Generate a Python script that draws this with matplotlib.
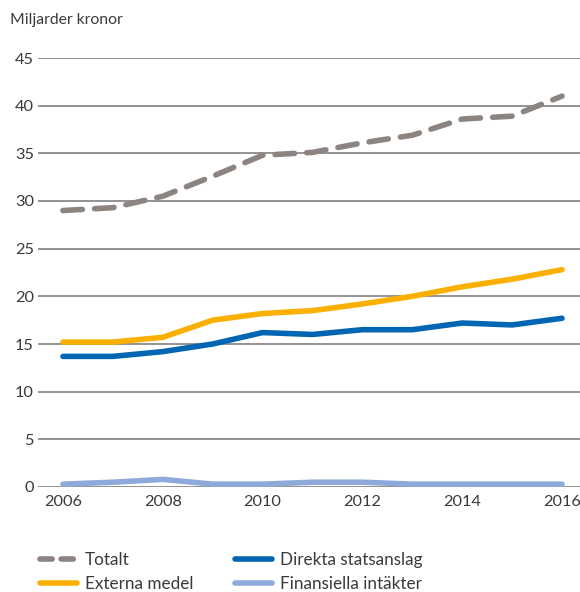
import matplotlib.pyplot as plt
from matplotlib.lines import Line2D

years = [2006, 2007, 2008, 2009, 2010, 2011, 2012, 2013, 2014, 2015, 2016]
totalt = [29.0, 29.3, 30.5, 32.6, 34.8, 35.1, 36.1, 36.9, 38.6, 38.9, 41.0]
externa = [15.2, 15.2, 15.7, 17.5, 18.2, 18.5, 19.2, 20.0, 21.0, 21.8, 22.8]
direkta = [13.7, 13.7, 14.2, 15.0, 16.2, 16.0, 16.5, 16.5, 17.2, 17.0, 17.7]
finansiella = [0.3, 0.5, 0.8, 0.3, 0.3, 0.5, 0.5, 0.3, 0.3, 0.3, 0.3]
yticks = [0, 5, 10, 15, 20, 25, 30, 35, 40, 45]
xticks = [2006, 2008, 2010, 2012, 2014, 2016]

c_tot = '#8c8480'
c_ext = '#fbb000'
c_dir = '#0066b3'
c_fin = '#8eaadb'
txt = '#3a3a3a'

plt.rcParams['font.family'] = ['Lato', 'DejaVu Sans']

fig = plt.figure(figsize=(5.8, 5.92), dpi=100)
ax = fig.add_axes([38 / 580, 105 / 592, 542 / 580, 429 / 592])

for y in yticks:
    ax.axhline(y, color='#8a8a8a', lw=1.3, zorder=1)

lw = 4
ax.plot(years, finansiella, color=c_fin, lw=lw, solid_capstyle='round', zorder=3)
ax.plot(years, direkta, color=c_dir, lw=lw, solid_capstyle='round', zorder=3)
ax.plot(years, externa, color=c_ext, lw=lw, solid_capstyle='round', zorder=3)
ax.plot(years, totalt, color=c_tot, lw=lw, dashes=(3.5, 2.2),
        dash_capstyle='round', zorder=3)

ax.set_xlim(2005.5, 2016.36)
ax.set_ylim(0, 45)
ax.set_yticks(yticks)
ax.set_xticks(xticks)
ax.tick_params(length=0, labelsize=11.8, colors=txt, pad=6)
ax.tick_params(axis='y', pad=3)
for s in ax.spines.values():
    s.set_visible(False)

fig.text(10 / 580, 1 - 20 / 592, 'Miljarder kronor', fontsize=11.3, color=txt, va='center')

handles = [
    Line2D([], [], color=c_tot, lw=lw, dashes=(2.2, 1.6), dash_capstyle='round'),
    Line2D([], [], color=c_ext, lw=lw, solid_capstyle='round'),
    Line2D([], [], color=c_dir, lw=lw, solid_capstyle='round'),
    Line2D([], [], color=c_fin, lw=lw, solid_capstyle='round'),
]
labels = ['Totalt', 'Externa medel', 'Direkta statsanslag', 'Finansiella intäkter']
leg = fig.legend(handles, labels, ncol=2, loc='upper left',
                 bbox_to_anchor=(33 / 580, 1 - 545 / 592), frameon=False,
                 fontsize=12.3, handlelength=2.2, handletextpad=0.45,
                 columnspacing=2.4, labelspacing=0.5, borderaxespad=0)
for t in leg.get_texts():
    t.set_color(txt)

fig.savefig('out.png', dpi=100)
